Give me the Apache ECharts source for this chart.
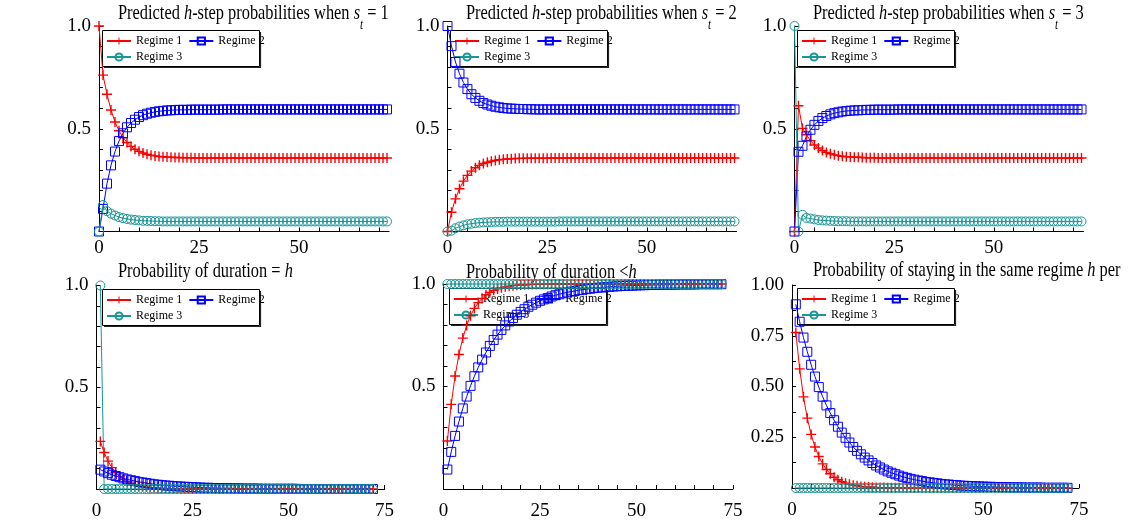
<!DOCTYPE html>
<html>
<head>
<meta charset="utf-8">
<script src="https://cdn.jsdelivr.net/npm/echarts@6/dist/echarts.min.js"></script>
<style>
  html, body { margin: 0; padding: 0; background: #ffffff; }
  #chart { width: 1131px; height: 531px; }
</style>
</head>
<body>
<div id="chart"></div>
<script>
// ---- Regime names ----
const regimeNames = ['Regime 1', 'Regime 2', 'Regime 3'];

// ---- Tick positions and tick labels ----
const xTicksTop = [0, 5, 10, 15, 20, 25, 30, 35, 40, 45, 50, 55, 60, 65, 70];
const xLabelsTop = [0, 25, 50];
const xTicksBottom = [0, 5, 10, 15, 20, 25, 30, 35, 40, 45, 50, 55, 60, 65, 70, 75];
const xLabelsBottom = [0, 25, 50, 75];
const yTicksTenth = [0, 0.1, 0.2, 0.3, 0.4, 0.5, 0.6, 0.7, 0.8, 0.9, 1];
const yLabelsHalf = [0.5, 1];
const yTicksEighth = [0, 0.125, 0.25, 0.375, 0.5, 0.625, 0.75, 0.875, 1];
const yLabelsQuarter = [0.25, 0.5, 0.75, 1];

// ---- Predicted h-step probabilities, h = 0..72, starting in regime 1 ----
const p1Regime1 = [1.000,0.761,0.668,0.591,0.533,0.490,0.457,0.433,0.414,0.400,0.390,0.382,0.376,
  0.371,0.368,0.365,0.364,0.362,0.361,0.360,0.360,0.359,0.359,0.359,0.358,
  0.358,0.358,0.358,0.358,0.358,0.358,0.358,0.358,0.358,0.358,0.358,0.358,
  0.358,0.358,0.358,0.358,0.358,0.358,0.358,0.358,0.358,0.358,0.358,0.358,
  0.358,0.358,0.358,0.358,0.358,0.358,0.358,0.358,0.358,0.358,0.358,0.358,
  0.358,0.358,0.358,0.358,0.358,0.358,0.358,0.358,0.358,0.358,0.358,0.358];
const p1Regime2 = [0.000,0.110,0.233,0.322,0.389,0.440,0.478,0.507,0.528,0.544,0.557,0.566,0.573,
  0.578,0.582,0.585,0.587,0.589,0.590,0.591,0.592,0.592,0.592,0.593,0.593,
  0.593,0.593,0.593,0.593,0.593,0.593,0.594,0.594,0.594,0.594,0.594,0.594,
  0.594,0.594,0.594,0.594,0.594,0.594,0.594,0.594,0.594,0.594,0.594,0.594,
  0.594,0.594,0.594,0.594,0.594,0.594,0.594,0.594,0.594,0.594,0.594,0.594,
  0.594,0.594,0.594,0.594,0.594,0.594,0.594,0.594,0.594,0.594,0.594,0.594];
const p1Regime3 = [0.000,0.129,0.099,0.087,0.078,0.070,0.065,0.061,0.058,0.056,0.054,0.052,0.052,
  0.051,0.050,0.050,0.049,0.049,0.049,0.049,0.049,0.049,0.049,0.049,0.049,
  0.049,0.049,0.049,0.049,0.049,0.049,0.049,0.049,0.049,0.049,0.049,0.049,
  0.049,0.049,0.049,0.049,0.049,0.049,0.049,0.049,0.049,0.049,0.049,0.049,
  0.049,0.049,0.049,0.049,0.049,0.049,0.049,0.049,0.049,0.049,0.049,0.049,
  0.049,0.049,0.049,0.049,0.049,0.049,0.049,0.049,0.049,0.049,0.049,0.049];

// ---- starting in regime 2 ----
const p2Regime1 = [0.000,0.094,0.159,0.208,0.245,0.273,0.294,0.310,0.322,0.331,0.337,0.342,0.346,
  0.349,0.351,0.353,0.354,0.355,0.356,0.356,0.357,0.357,0.357,0.357,0.357,
  0.357,0.358,0.358,0.358,0.358,0.358,0.358,0.358,0.358,0.358,0.358,0.358,
  0.358,0.358,0.358,0.358,0.358,0.358,0.358,0.358,0.358,0.358,0.358,0.358,
  0.358,0.358,0.358,0.358,0.358,0.358,0.358,0.358,0.358,0.358,0.358,0.358,
  0.358,0.358,0.358,0.358,0.358,0.358,0.358,0.358,0.358,0.358,0.358,0.358];
const p2Regime2 = [1.000,0.902,0.825,0.768,0.725,0.693,0.668,0.650,0.636,0.625,0.618,0.612,0.607,
  0.604,0.601,0.599,0.598,0.597,0.596,0.596,0.595,0.595,0.594,0.594,0.594,
  0.594,0.594,0.594,0.594,0.594,0.594,0.594,0.594,0.594,0.594,0.594,0.594,
  0.594,0.594,0.594,0.594,0.594,0.594,0.594,0.594,0.594,0.594,0.594,0.594,
  0.594,0.594,0.594,0.594,0.594,0.594,0.594,0.594,0.594,0.594,0.594,0.594,
  0.594,0.594,0.594,0.594,0.594,0.594,0.594,0.594,0.594,0.594,0.594,0.594];
const p2Regime3 = [0.000,0.004,0.016,0.024,0.030,0.035,0.038,0.041,0.043,0.044,0.045,0.046,0.047,
  0.047,0.047,0.048,0.048,0.048,0.048,0.048,0.048,0.048,0.048,0.048,0.048,
  0.048,0.048,0.048,0.049,0.049,0.049,0.049,0.049,0.049,0.049,0.049,0.049,
  0.049,0.049,0.049,0.049,0.049,0.049,0.049,0.049,0.049,0.049,0.049,0.049,
  0.049,0.049,0.049,0.049,0.049,0.049,0.049,0.049,0.049,0.049,0.049,0.049,
  0.049,0.049,0.049,0.049,0.049,0.049,0.049,0.049,0.049,0.049,0.049,0.049];

// ---- starting in regime 3 ----
const p3Regime1 = [0.000,0.612,0.502,0.471,0.442,0.421,0.406,0.394,0.385,0.378,0.373,0.369,0.366,
  0.364,0.363,0.361,0.361,0.360,0.359,0.359,0.359,0.358,0.358,0.358,0.358,
  0.358,0.358,0.358,0.358,0.358,0.358,0.358,0.358,0.358,0.358,0.358,0.358,
  0.358,0.358,0.358,0.358,0.358,0.358,0.358,0.358,0.358,0.358,0.358,0.358,
  0.358,0.358,0.358,0.358,0.358,0.358,0.358,0.358,0.358,0.358,0.358,0.358,
  0.358,0.358,0.358,0.358,0.358,0.358,0.358,0.358,0.358,0.358,0.358,0.358];
const p3Regime2 = [0.000,0.388,0.417,0.463,0.495,0.519,0.538,0.552,0.562,0.570,0.576,0.580,0.584,
  0.586,0.588,0.589,0.590,0.591,0.592,0.592,0.593,0.593,0.593,0.593,0.593,
  0.593,0.594,0.594,0.594,0.594,0.594,0.594,0.594,0.594,0.594,0.594,0.594,
  0.594,0.594,0.594,0.594,0.594,0.594,0.594,0.594,0.594,0.594,0.594,0.594,
  0.594,0.594,0.594,0.594,0.594,0.594,0.594,0.594,0.594,0.594,0.594,0.594,
  0.594,0.594,0.594,0.594,0.594,0.594,0.594,0.594,0.594,0.594,0.594,0.594];
const p3Regime3 = [1.000,0.000,0.081,0.066,0.063,0.059,0.056,0.054,0.053,0.052,0.051,0.050,0.050,
  0.050,0.049,0.049,0.049,0.049,0.049,0.049,0.049,0.049,0.049,0.049,0.049,
  0.049,0.049,0.049,0.049,0.049,0.049,0.049,0.049,0.049,0.049,0.049,0.049,
  0.049,0.049,0.049,0.049,0.049,0.049,0.049,0.049,0.049,0.049,0.049,0.049,
  0.049,0.049,0.049,0.049,0.049,0.049,0.049,0.049,0.049,0.049,0.049,0.049,
  0.049,0.049,0.049,0.049,0.049,0.049,0.049,0.049,0.049,0.049,0.049,0.049];

// ---- Probability of duration = h, h = 1..72 ----
const durEqRegime1 = [0.234,0.179,0.137,0.105,0.081,0.062,0.047,0.036,0.028,0.021,0.016,0.012,
  0.010,0.007,0.006,0.004,0.003,0.003,0.002,0.001,0.001,0.001,0.001,0.001,
  0,0,0,0,0,0,0,0,0,0,0,0,
  0,0,0,0,0,0,0,0,0,0,0,0,
  0,0,0,0,0,0,0,0,0,0,0,0,
  0,0,0,0,0,0,0,0,0,0,0,0];
const durEqRegime2 = [0.095,0.086,0.078,0.070,0.064,0.058,0.052,0.047,0.043,0.039,0.035,0.032,
  0.029,0.026,0.023,0.021,0.019,0.017,0.016,0.014,0.013,0.012,0.011,0.010,
  0.009,0.008,0.007,0.006,0.006,0.005,0.005,0.004,0.004,0.004,0.003,0.003,
  0.003,0.002,0.002,0.002,0.002,0.002,0.001,0.001,0.001,0.001,0.001,0.001,
  0.001,0.001,0.001,0.001,0,0,0,0,0,0,0,0,
  0,0,0,0,0,0,0,0,0,0,0,0];
const durEqRegime3 = [1,0,0,0,0,0,0,0,0,0,0,0,
  0,0,0,0,0,0,0,0,0,0,0,0,
  0,0,0,0,0,0,0,0,0,0,0,0,
  0,0,0,0,0,0,0,0,0,0,0,0,
  0,0,0,0,0,0,0,0,0,0,0,0,
  0,0,0,0,0,0,0,0,0,0,0,0];

// ---- Probability of duration < h ----
const durLeRegime1 = [0.234,0.413,0.551,0.656,0.736,0.798,0.845,0.881,0.909,0.930,0.947,0.959,
  0.969,0.976,0.982,0.986,0.989,0.992,0.994,0.995,0.996,0.997,0.998,0.998,
  0.999,0.999,0.999,0.999,1,1,1,1,1,1,1,1,
  1,1,1,1,1,1,1,1,1,1,1,1,
  1,1,1,1,1,1,1,1,1,1,1,1,
  1,1,1,1,1,1,1,1,1,1,1,1];
const durLeRegime2 = [0.095,0.181,0.259,0.329,0.393,0.451,0.503,0.550,0.593,0.631,0.666,0.698,
  0.727,0.753,0.776,0.798,0.817,0.834,0.850,0.864,0.877,0.889,0.899,0.909,
  0.918,0.925,0.932,0.939,0.945,0.950,0.955,0.959,0.963,0.966,0.970,0.972,
  0.975,0.977,0.980,0.982,0.983,0.985,0.986,0.988,0.989,0.990,0.991,0.992,
  0.992,0.993,0.994,0.994,0.995,0.995,0.996,0.996,0.997,0.997,0.997,0.997,
  0.998,0.998,0.998,0.998,0.998,0.999,0.999,0.999,0.999,0.999,0.999,0.999];
const durLeRegime3 = [1,1,1,1,1,1,1,1,1,1,1,1,
  1,1,1,1,1,1,1,1,1,1,1,1,
  1,1,1,1,1,1,1,1,1,1,1,1,
  1,1,1,1,1,1,1,1,1,1,1,1,
  1,1,1,1,1,1,1,1,1,1,1,1,
  1,1,1,1,1,1,1,1,1,1,1,1];

// ---- Probability of staying in the same regime h periods ----
const stayRegime1 = [0.766,0.587,0.449,0.344,0.264,0.202,0.155,0.119,0.091,0.070,0.053,0.041,
  0.031,0.024,0.018,0.014,0.011,0.008,0.006,0.005,0.004,0.003,0.002,0.002,
  0.001,0.001,0.001,0.001,0,0,0,0,0,0,0,0,
  0,0,0,0,0,0,0,0,0,0,0,0,
  0,0,0,0,0,0,0,0,0,0,0,0,
  0,0,0,0,0,0,0,0,0,0,0,0];
const stayRegime2 = [0.905,0.819,0.741,0.671,0.607,0.549,0.497,0.450,0.407,0.369,0.334,0.302,
  0.273,0.247,0.224,0.202,0.183,0.166,0.150,0.136,0.123,0.111,0.101,0.091,
  0.082,0.075,0.068,0.061,0.055,0.050,0.045,0.041,0.037,0.034,0.030,0.028,
  0.025,0.023,0.020,0.018,0.017,0.015,0.014,0.012,0.011,0.010,0.009,0.008,
  0.008,0.007,0.006,0.006,0.005,0.005,0.004,0.004,0.003,0.003,0.003,0.003,
  0.002,0.002,0.002,0.002,0.002,0.001,0.001,0.001,0.001,0.001,0.001,0.001];
const stayRegime3 = [0,0,0,0,0,0,0,0,0,0,0,0,
  0,0,0,0,0,0,0,0,0,0,0,0,
  0,0,0,0,0,0,0,0,0,0,0,0,
  0,0,0,0,0,0,0,0,0,0,0,0,
  0,0,0,0,0,0,0,0,0,0,0,0,
  0,0,0,0,0,0,0,0,0,0,0,0];

// ---- Panel titles (rich text: italic symbols, subscript t) ----
const titleTexts = [
  '{n|Predicted }{i|h}{n|-step probabilities when }{i|s}{s|t}{n| = 1}',
  '{n|Predicted }{i|h}{n|-step probabilities when }{i|s}{s|t}{n| = 2}',
  '{n|Predicted }{i|h}{n|-step probabilities when }{i|s}{s|t}{n| = 3}',
  '{n|Probability of duration = }{i|h}',
  '{n|Probability of duration <}{i|h}',
  '{n|Probability of staying in the same regime }{i|h}{n| per}'
];

// ---- Layout of the six panels ----
const SERIF = 'Liberation Serif';
const panels = [
  { grid: { left: 99,    top: 26,    width: 290,   height: 205.5 }, xMax: 72.5, top: true,  start: 0, yq: false,
    data: [p1Regime1, p1Regime2, p1Regime3], box: [102, 30], title: [118, 2.6] },
  { grid: { left: 447.5, top: 26,    width: 289,   height: 205.5 }, xMax: 72.5, top: true,  start: 0, yq: false,
    data: [p2Regime1, p2Regime2, p2Regime3], box: [450, 30], title: [466, 2.6] },
  { grid: { left: 794.5, top: 26,    width: 289,   height: 205.5 }, xMax: 72.5, top: true,  start: 0, yq: false,
    data: [p3Regime1, p3Regime2, p3Regime3], box: [797, 30], title: [813, 2.6] },
  { grid: { left: 96.5,  top: 285.5, width: 288,   height: 203.5 }, xMax: 75,   top: false, start: 1, yq: false,
    data: [durEqRegime1, durEqRegime2, durEqRegime3], box: [102, 289], title: [118, 260.6] },
  { grid: { left: 443.5, top: 284,   width: 289.5, height: 205   }, xMax: 75,   top: false, start: 1, yq: false,
    data: [durLeRegime1, durLeRegime2, durLeRegime3], box: [449, 288], title: [466, 261.6] },
  { grid: { left: 792,   top: 285,   width: 287,   height: 203   }, xMax: 75,   top: false, start: 1, yq: true,
    data: [stayRegime1, stayRegime2, stayRegime3], box: [797, 288], title: [813, 259.6] }
];

// ---- Series look: red crosses, blue open squares, teal open circles ----
const TEAL = '#1a9696';
const seriesLook = [
  { symbol: 'path://M4.3,0H5.7V10H4.3Z M0,4.3H10V5.7H0Z', symbolSize: 10,
    lineStyle: { color: '#ff0000', width: 1 }, itemStyle: { color: '#ff0000' } },
  { symbol: 'rect', symbolSize: 9,
    lineStyle: { color: '#0000ff', width: 1 }, itemStyle: { color: 'rgba(0,0,0,0)', borderColor: '#0000ff', borderWidth: 1 } },
  { symbol: 'circle', symbolSize: 9,
    lineStyle: { color: TEAL, width: 1 }, itemStyle: { color: 'rgba(0,0,0,0)', borderColor: TEAL, borderWidth: 1 } }
];

const axisText = { fontFamily: SERIF, fontSize: 19, color: '#000' };
const legendText = { fontFamily: SERIF, fontSize: 12, color: '#000' };
const titleRich = {
  n: { fontFamily: SERIF, fontSize: 21, lineHeight: 24, verticalAlign: 'top', color: '#000' },
  i: { fontFamily: SERIF, fontSize: 21, lineHeight: 24, verticalAlign: 'top', fontStyle: 'italic', color: '#000' },
  s: { fontFamily: SERIF, fontSize: 14, lineHeight: 24, verticalAlign: 'top', fontStyle: 'italic', color: '#000', padding: [16, 0, 0, 0] }
};

const option = {
  animation: false,
  backgroundColor: '#ffffff',
  grid: [], xAxis: [], yAxis: [], series: [], legend: [], graphic: []
};

panels.forEach((p, i) => {
  option.grid.push(Object.assign({ containLabel: false }, p.grid));

  option.xAxis.push({
    gridIndex: i, type: 'value', min: 0, max: p.xMax, interval: 25,
    axisLine: { show: true, onZero: false, lineStyle: { color: '#000', width: 1 } },
    axisTick: { show: true, inside: true, length: 4, customValues: p.top ? xTicksTop : xTicksBottom,
                lineStyle: { color: '#000', width: 1 } },
    axisLabel: Object.assign({ customValues: p.top ? xLabelsTop : xLabelsBottom, margin: p.top ? 7 : 13 }, axisText),
    splitLine: { show: false }
  });

  option.yAxis.push({
    gridIndex: i, type: 'value', min: 0, max: 1, interval: p.yq ? 0.25 : 0.5,
    axisLine: { show: true, onZero: false, lineStyle: { color: '#000', width: 1 } },
    axisTick: { show: true, inside: true, length: 4, customValues: p.yq ? yTicksEighth : yTicksTenth,
                lineStyle: { color: '#000', width: 1 } },
    axisLabel: Object.assign({
      customValues: p.yq ? yLabelsQuarter : yLabelsHalf, margin: 8,
      formatter: v => v.toFixed(p.yq ? 2 : 1)
    }, axisText),
    splitLine: { show: false }
  });

  p.data.forEach((arr, k) => {
    option.series.push(Object.assign({
      type: 'line', name: regimeNames[k], xAxisIndex: i, yAxisIndex: i,
      data: arr.map((v, j) => [j + p.start, v]),
      showSymbol: true, clip: false, silent: true, z: 3,
      emphasis: { disabled: true }
    }, seriesLook[k]));
  });

  const bx = p.box[0], by = p.box[1];
  const legendBase = {
    orient: 'horizontal', padding: 0, itemWidth: 24, itemHeight: 9, itemGap: 6,
    textStyle: legendText, selectedMode: false, z: 1, backgroundColor: 'transparent'
  };
  option.legend.push(Object.assign({ left: bx + 4, top: by + 5, data: [regimeNames[0], regimeNames[1]] }, legendBase));
  option.legend.push(Object.assign({ left: bx + 4, top: by + 21, data: [regimeNames[2]] }, legendBase));

  // legend frame with a dark drop edge
  option.graphic.push({
    type: 'rect', z: 1, silent: true,
    shape: { x: bx + 0.5, y: by + 0.5, width: 157, height: 36 },
    style: { fill: null, stroke: '#000', lineWidth: 1 }
  });
  option.graphic.push({
    type: 'polyline', z: 1, silent: true,
    shape: { points: [[bx + 158.5, by + 2], [bx + 158.5, by + 37.5], [bx + 2, by + 37.5]] },
    style: { fill: null, stroke: '#222', lineWidth: 1.2 }
  });

  // panel title, set in a condensed serif
  option.graphic.push({
    type: 'text', z: 0, silent: true, x: p.title[0], y: p.title[1], scaleX: 0.78,
    style: { text: titleTexts[i], rich: titleRich, fontFamily: SERIF, fontSize: 21,
             verticalAlign: 'top', align: 'left', fill: '#000' }
  });
});

const chart = echarts.init(document.getElementById('chart'), null, { renderer: 'canvas' });
chart.setOption(option);
</script>
</body>
</html>
